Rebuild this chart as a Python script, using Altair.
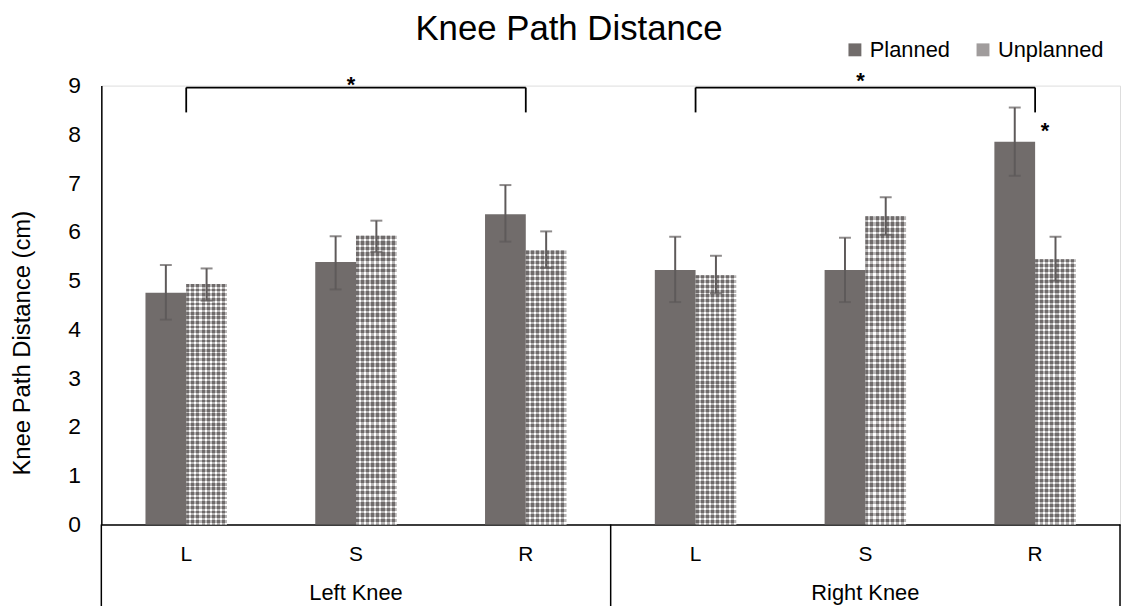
import altair as alt
import pandas as pd

# ---------------- data ----------------
knees = ["Left Knee", "Right Knee"]
sides = ["L", "S", "R"]
series = ["Planned", "Unplanned"]

planned_mean = [4.75, 5.38, 6.36, 5.22, 5.22, 7.85]
planned_lo = [4.20, 4.82, 5.80, 4.56, 4.56, 7.15]
planned_hi = [5.32, 5.91, 6.96, 5.90, 5.88, 8.55]

unplanned_mean = [4.93, 5.92, 5.62, 5.11, 6.32, 5.44]
unplanned_lo = [4.59, 5.59, 5.26, 4.74, 5.94, 5.00]
unplanned_hi = [5.25, 6.23, 6.01, 5.51, 6.71, 5.90]

y_ticks = [0, 1, 2, 3, 4, 5, 6, 7, 8, 9]

# significance brackets and stars
bracket_start = ["Left Knee L", "Right Knee L"]
bracket_end = ["Left Knee R", "Right Knee R"]
bracket_top = [8.96, 8.96]
bracket_bottom = [8.45, 8.45]
star_cats = ["Left Knee S", "Right Knee S"]
star_y = [8.87, 8.95]
bar_star_cat = ["Right Knee R"]
bar_star_y = [7.92]

# ---------------- styles ----------------
W, H = 1026, 442
FONT = "Liberation Sans"
PLANNED = "#716c6b"
HATCH = "#6f6b6b"
ERR = "#5e5a5a"

cats = [f"{k} {s}" for k in knees for s in sides]

df = pd.DataFrame({
    "cat": cats * 2,
    "series": ["Planned"] * 6 + ["Unplanned"] * 6,
    "mean": planned_mean + unplanned_mean,
    "lo": planned_lo + unplanned_lo,
    "hi": planned_hi + unplanned_hi,
})
brackets = pd.DataFrame({"start": bracket_start, "end": bracket_end,
                         "top": bracket_top, "bottom": bracket_bottom})
stars = pd.DataFrame({"cat": star_cats, "y": star_y, "t": ["*"] * len(star_cats)})
bar_stars = pd.DataFrame({"cat": bar_star_cat, "y": bar_star_y, "t": ["*"]})
groups = pd.DataFrame({"knee": knees, "mid": [f"{k} S" for k in knees]})
frame = pd.DataFrame({"k": [0]})

x_scale = alt.Scale(domain=cats, paddingInner=0.52, paddingOuter=0.26)
x_axis = alt.Axis(title=None, labelExpr="split(datum.label, ' ')[2]", labelAngle=0,
                  ticks=False, tickSize=0, labelFontSize=21, labelFont=FONT,
                  labelColor="black", labelBaseline="alphabetic", labelPadding=36,
                  domainColor="black", domainWidth=1.5, grid=False)
y_scale = alt.Scale(domain=[0, 9], nice=False, zero=True)
y_axis = alt.Axis(values=y_ticks, title="Knee Path Distance (cm)", grid=False,
                  ticks=False, tickSize=0, labelFontSize=23, labelFont=FONT,
                  labelColor="black", labelPadding=21, titleFontSize=24,
                  titleFont=FONT, titleFontWeight="normal", titleColor="black",
                  titleAngle=-90, titleX=-79, titleY=259, titleAlign="center",
                  titleBaseline="middle", domainColor="black", domainWidth=1.5)


def X(field):
    return alt.X(field, sort=cats, scale=x_scale, axis=x_axis)


def Y(field):
    return alt.Y(field, scale=y_scale, axis=y_axis)


xoff = alt.XOffset("series:N", scale=alt.Scale(domain=series))


def stripes(n, color_a, color_b, frac=0.6):
    stops = []
    for i in range(n):
        stops += [
            alt.GradientStop(color=color_a, offset=i / n),
            alt.GradientStop(color=color_a, offset=(i + frac) / n),
            alt.GradientStop(color=color_b, offset=(i + frac) / n),
            alt.GradientStop(color=color_b, offset=(i + 1) / n),
        ]
    return stops


vert = alt.LinearGradient(gradient="linear", stops=stripes(8, HATCH, "white"),
                          x1=0, x2=1, y1=0, y2=0)
horiz = alt.LinearGradient(gradient="linear", stops=stripes(52, HATCH, "white"),
                           x1=0, x2=0, y1=0, y2=1)

planned_bars = alt.Chart(df).transform_filter(alt.datum.series == "Planned").mark_bar().encode(
    x=X("cat:N"), xOffset=xoff, y=Y("mean:Q"),
    color=alt.Color("series:N", scale=alt.Scale(domain=series, range=[PLANNED, "#a09c9c"]),
                    legend=alt.Legend(orient="none", legendX=748, legendY=-47,
                                      direction="horizontal", title=None,
                                      symbolType="square", symbolSize=169,
                                      symbolStrokeWidth=0, labelFontSize=22,
                                      labelFont=FONT, labelColor="black",
                                      columnPadding=22, labelOffset=4, padding=0)),
)

unpl_v = alt.Chart(df).transform_filter(alt.datum.series == "Unplanned").mark_bar(
    fill=vert).encode(x=X("cat:N"), xOffset=xoff, y=Y("mean:Q"))
unpl_h = alt.Chart(df).transform_filter(alt.datum.series == "Unplanned").mark_bar(
    fill=horiz, fillOpacity=0.5).encode(x=X("cat:N"), xOffset=xoff, y=Y("mean:Q"))

err_rule = alt.Chart(df).mark_rule(color=ERR, strokeWidth=2).encode(
    x=X("cat:N"), xOffset=xoff, y=Y("lo:Q"), y2="hi:Q")
err_lo = alt.Chart(df).mark_tick(color=ERR, size=12, thickness=2, orient="horizontal").encode(
    x=X("cat:N"), xOffset=xoff, y=Y("lo:Q"))
err_hi = alt.Chart(df).mark_tick(color=ERR, size=12, thickness=2, orient="horizontal").encode(
    x=X("cat:N"), xOffset=xoff, y=Y("hi:Q"))

br_h = alt.Chart(brackets).mark_rule(color="black", strokeWidth=1.8).encode(
    x=X("start:N"), x2="end:N", y=Y("top:Q"))
br_l = alt.Chart(brackets).mark_rule(color="black", strokeWidth=1.8).encode(
    x=X("start:N"), y=Y("top:Q"), y2="bottom:Q")
br_r = alt.Chart(brackets).mark_rule(color="black", strokeWidth=1.8).encode(
    x=X("end:N"), y=Y("top:Q"), y2="bottom:Q")

star_txt = alt.Chart(stars).mark_text(font=FONT, fontSize=22, fontWeight="bold",
                                      color="black", baseline="alphabetic", dx=-5).encode(
    x=X("cat:N"), y=Y("y:Q"), text="t:N")
bar_star_txt = alt.Chart(bar_stars).mark_text(font=FONT, fontSize=22, fontWeight="bold",
                                              color="black", baseline="alphabetic", dx=10).encode(
    x=X("cat:N"), y=Y("y:Q"), text="t:N")

group_txt = alt.Chart(groups).mark_text(font=FONT, fontSize=22, color="black",
                                        baseline="alphabetic").encode(
    x=X("mid:N"), y=alt.value(H + 76), text="knee:N")

dividers = [
    alt.Chart(frame).mark_rule(color="black", strokeWidth=1.5).encode(
        x=alt.value(px), y=alt.value(H), y2=alt.value(H + 100))
    for px in (0, W / 2, W)
]

chart = alt.layer(
    planned_bars, unpl_v, unpl_h, err_rule, err_lo, err_hi,
    br_h, br_l, br_r, star_txt, bar_star_txt, group_txt, *dividers,
).properties(
    width=W, height=H,
    title=alt.TitleParams("Knee Path Distance", font=FONT, fontSize=35,
                          fontWeight="normal", color="black", anchor="middle",
                          frame="group", dx=-42, dy=18, offset=10),
    autosize=alt.AutoSizeParams(type="none"),
    padding={"left": 94, "top": 76, "right": 2, "bottom": 80},
).configure_view(stroke=None).configure(background="white")

chart.save("out.html", embed_options={"renderer": "svg", "actions": False})
